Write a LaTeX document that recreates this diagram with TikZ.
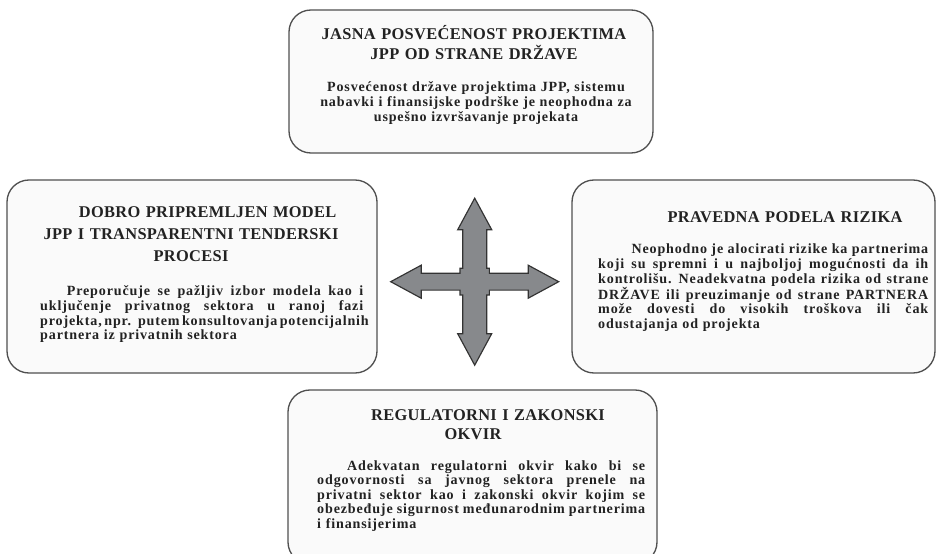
\documentclass[tikz,border=0pt]{standalone}
\usepackage{fontspec}
\setmainfont{Liberation Serif}
\newfontfamily\naslovfont[LetterSpace=2]{Liberation Serif}
\newfontfamily\tekstfont[LetterSpace=6]{Liberation Serif}
\newcommand\punired[1]{\hbox to\hsize{\spaceskip=0.25em plus 1fil minus 0.08em #1}}	% poravnat red
\newcommand\zadnjired[1]{\hbox to\hsize{#1\hfil}}									% poslednji red pasusa
\definecolor{okvir}{HTML}{505050}
\definecolor{strelica}{HTML}{87898C}
\definecolor{tekst}{HTML}{222222}

\tikzset{
	panel/.style={draw=okvir, fill=black!2, line width=0.4mm, rounded corners=6.6mm},
	naslov/.style={font=\naslovfont\bfseries\fontsize{14}{16.5}\selectfont, text=tekst,
		align=center, text width=110mm, inner sep=0pt, anchor=base},
	opis/.style={font=\tekstfont\bfseries\fontsize{12}{12.4}\selectfont, text=tekst,
		inner sep=0pt, anchor=base west},
	krst/.style={draw=black!80, fill=strelica, line width=0.35mm, line join=miter},
}

\begin{document}
\begin{tikzpicture}[x=0.3mm, y=-0.3mm]
	\useasboundingbox (0,0) rectangle (938,554);
	\clip (0,0) rectangle (938,554);
	\node[panel, minimum width=109.2mm, minimum height=42.9mm] (jpp) at (471,81.5) {};
	\node[panel, minimum width=111mm, minimum height=57.9mm] (model) at (192,276.5) {};
	\node[panel, minimum width=108.9mm, minimum height=57.9mm] (rizik) at (753.5,276.5) {};
	\node[panel, minimum width=110.7mm, minimum height=52.2mm] (zakon) at (472.5,477) {};

	\node[naslov] (jpp-naslov) at (474,40) {JASNA POSVEĆENOST PROJEKTIMA\\JPP OD STRANE DRŽAVE};
	\node[opis, text width=110mm, align=center, anchor=base] (jpp-opis) at (476,92)
		{Posvećenost države projektima JPP, sistemu\\nabavki i finansijske podrške je neophodna za\\uspešno izvršavanje projekata};

	\node[naslov] (model-naslov) at (191,218)
		{\hspace*{10mm}DOBRO PRIPREMLJEN MODEL\\[2pt]JPP I TRANSPARENTNI TENDERSKI\\[2pt]PROCESI};
	\node[opis, text width=96.9mm] (model-opis) at (40,296) {\vtop{%
		\punired{\hskip8mm Preporučuje se pažljiv izbor modela kao i}
		\punired{uključenje privatnog sektora u ranoj fazi}
		\punired{projekta, npr. putem konsultovanja potencijalnih}
		\zadnjired{partnera iz privatnih sektora}}};

	\node[naslov] (rizik-naslov) at (785,223) {PRAVEDNA PODELA RIZIKA};
	\node[opis, text width=99mm] (rizik-opis) at (598,254) {\vtop{%
		\punired{\hskip10mm Neophodno je alocirati rizike ka partnerima}
		\punired{koji su spremni i u najboljoj mogućnosti da ih}
		\punired{kontrolišu. Neadekvatna podela rizika od strane}
		\punired{DRŽAVE ili preuzimanje od strane PARTNERA}
		\punired{može dovesti do visokih troškova ili čak}
		\zadnjired{odustajanja od projekta}}};

	\node[naslov] (zakon-naslov) at (473,420) {\hspace*{9mm}REGULATORNI I ZAKONSKI\\OKVIR};
	\node[opis, text width=98.4mm] (zakon-opis) at (317,470) {\vtop{%
		\punired{\hskip9mm Adekvatan regulatorni okvir kako bi se}
		\punired{odgovornosti sa javnog sektora prenele na}
		\punired{privatni sektor kao i zakonski okvir kojim se}
		\punired{obezbeđuje sigurnost međunarodnim partnerima}
		\zadnjired{i finansijerima}}};

	\begin{scope}[shift={(474.7,281.7)}]
		\draw[krst] (0,-83.5) -- (17,-52) -- (12,-52) -- (12,-13.4) -- (14.7,-13.4) -- (14.7,-8.4)
			-- (53.5,-8.4) -- (53.5,-16.5) -- (84,0) -- (53.5,16.5) -- (53.5,8.4) -- (14.7,8.4)
			-- (14.7,13.3) -- (12,13.3) -- (12,52) -- (17,52) -- (0,83.5) -- (-17,52) -- (-12,52)
			-- (-12,13.3) -- (-14.7,13.3) -- (-14.7,8.4) -- (-53.5,8.4) -- (-53.5,16.5) -- (-84,0)
			-- (-53.5,-16.5) -- (-53.5,-8.4) -- (-14.7,-8.4) -- (-14.7,-13.4) -- (-12,-13.4)
			-- (-12,-52) -- (-17,-52) -- cycle;
	\end{scope}
\end{tikzpicture}
\end{document}
